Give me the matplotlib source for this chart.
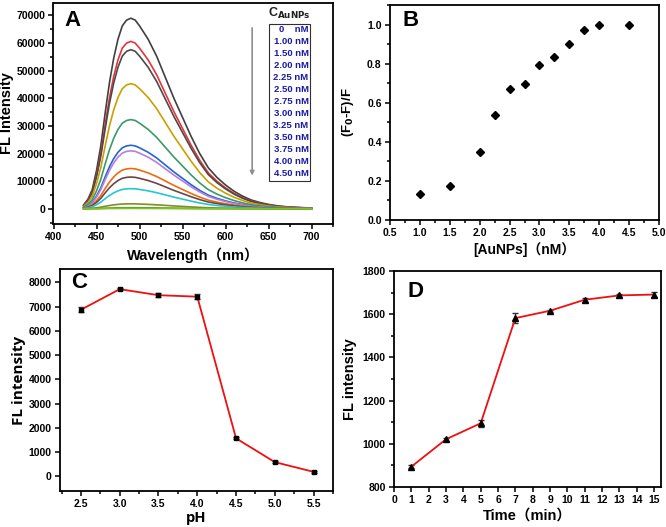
import numpy as np
import matplotlib.pyplot as plt
from matplotlib.ticker import MultipleLocator, AutoMinorLocator
from matplotlib.patches import Rectangle

plt.rcParams['font.family'] = ['Liberation Sans', 'Noto Sans CJK SC']
plt.rcParams['font.weight'] = 'bold'
plt.rcParams['axes.linewidth'] = 1.3

# --- A: emission spectra (normalised profile, scaled by each peak)
wavelength = [435, 440, 445, 450, 455, 460, 465, 470, 475, 480, 485, 490, 495, 500,
              510, 520, 530, 540, 550, 560, 570, 580, 590, 600, 610, 620, 630, 640,
              650, 660, 670, 680, 690, 700]
profile = [0.02, 0.05, 0.10, 0.20, 0.33, 0.50, 0.66, 0.79, 0.89, 0.96, 0.99, 1.00, 0.99, 0.96,
           0.89, 0.80, 0.69, 0.58, 0.48, 0.38, 0.29, 0.215, 0.165, 0.125, 0.092, 0.066, 0.046,
           0.033, 0.023, 0.016, 0.011, 0.008, 0.006, 0.004]
conc_labels = ['0    nM', '1.00 nM', '1.50 nM', '2.00 nM', '2.25 nM', '2.50 nM', '2.75 nM',
               '3.00 nM', '3.25 nM', '3.50 nM', '3.75 nM', '4.00 nM', '4.50 nM']
peaks = [69000, 60600, 57600, 45300, 32300, 23000, 21000, 14600, 11500, 7300, 1800, 400, 150]
colors = ['#404040', '#e8323a', '#4a4a4a', '#c9a000', '#3a9a6a', '#2266cc', '#b57ee0',
          '#ee6a10', '#6a4646', '#22c8d0', '#8a8a20', '#3aa030', '#80c020']

# --- B
aunps = [1.0, 1.5, 2.0, 2.25, 2.5, 2.75, 3.0, 3.25, 3.5, 3.75, 4.0, 4.5]
ratio = [0.131, 0.174, 0.346, 0.535, 0.668, 0.698, 0.792, 0.835, 0.898, 0.973, 0.997, 0.998]

# --- C
ph = [2.5, 3.0, 3.5, 4.0, 4.5, 5.0, 5.5]
fl_ph = [6870, 7720, 7470, 7410, 1570, 590, 190]
err_ph = [100, 40, 80, 110, 40, 40, 30]

# --- D
time_min = [1, 3, 5, 7, 9, 11, 13, 15]
fl_time = [894, 1021, 1095, 1582, 1616, 1667, 1687, 1691]
err_time = [8, 6, 15, 25, 5, 10, 6, 12]

W, H = 666, 527
fig = plt.figure(figsize=(W / 100, H / 100), dpi=100)


def box(l, r, t, b):
    return [l / W, 1 - b / H, (r - l) / W, (b - t) / H]


def style(ax):
    ax.tick_params(which='both', direction='out', labelsize=7.5, width=1.1, pad=2.5)
    ax.tick_params(which='major', length=3.5)
    ax.tick_params(which='minor', length=2)
    for lab in ax.get_xticklabels() + ax.get_yticklabels():
        lab.set_fontweight('bold')


def panel_letter(ax, s, x, y):
    ax.text(x, y, s, transform=ax.transAxes, fontsize=16, fontweight='bold',
            va='top', ha='left', family='Liberation Sans')


# ---------- A
axA = fig.add_axes(box(53.5, 333, 3, 224))
wl = np.array(wavelength)
for pk, c in zip(peaks, colors):
    axA.plot(wl, pk * np.array(profile), color=c, lw=1.2)
axA.set_xlim(400, 725)
axA.set_ylim(-5500, 74500)
axA.xaxis.set_major_locator(MultipleLocator(50))
axA.xaxis.set_minor_locator(AutoMinorLocator(2))
axA.yaxis.set_major_locator(MultipleLocator(10000))
axA.yaxis.set_minor_locator(AutoMinorLocator(2))
style(axA)
axA.set_xlabel('Wavelength（nm）', fontsize=10.5, fontweight='bold', labelpad=4)
axA.set_ylabel('FL Intensity', fontsize=10.5, fontweight='bold', labelpad=2)
panel_letter(axA, 'A', 0.04, 0.97)

axA.annotate('', xy=(631, 11000), xytext=(631, 66500),
             arrowprops=dict(arrowstyle='-|>', color='#909090', lw=1.2,
                             mutation_scale=6))


def ax_a(px, py):
    return (px - 53.5) / 279.5, (224 - py) / 221


x0, y0 = ax_a(269, 24)
x1, y1 = ax_a(310, 181)
axA.add_patch(Rectangle((x0, y1), x1 - x0, y0 - y1, transform=axA.transAxes,
                        fill=False, lw=0.8, ec='#303030'))
for i, lab in enumerate(conc_labels):
    tx, ty = ax_a(308.5, 30 + 12 * i)
    axA.text(tx, ty, lab, transform=axA.transAxes, ha='right', va='center',
             fontsize=6.8, fontweight='bold', color='#1a1aa6')
tx, ty = ax_a(289, 13)
axA.text(tx, ty, r'C$_{\mathbf{AuNPs}}$', transform=axA.transAxes, ha='center',
         va='center', fontsize=9, fontweight='bold', color='#202020')

# ---------- B
axB = fig.add_axes(box(390, 659, 5, 220))
axB.plot(aunps, ratio, 'D', color='black', ms=4)
axB.set_xlim(0.5, 5.0)
axB.set_ylim(0, 1.1)
axB.xaxis.set_major_locator(MultipleLocator(0.5))
axB.xaxis.set_minor_locator(AutoMinorLocator(2))
axB.yaxis.set_major_locator(MultipleLocator(0.2))
axB.yaxis.set_minor_locator(AutoMinorLocator(2))
axB.xaxis.set_major_formatter(plt.FormatStrFormatter('%.1f'))
axB.yaxis.set_major_formatter(plt.FormatStrFormatter('%.1f'))
style(axB)
axB.set_xlabel('[AuNPs]（nM）', fontsize=10, fontweight='bold', labelpad=3)
axB.set_ylabel(r'(F$_\mathbf{0}$-F)/F', fontsize=9.5, fontweight='bold', labelpad=8)
panel_letter(axB, 'B', 0.045, 0.975)

# ---------- C
axC = fig.add_axes(box(60, 333, 269, 491))
axC.errorbar(ph, fl_ph, yerr=err_ph, color='#ee1010', lw=1.3, marker='s', ms=3.5,
             mfc='black', mec='black', ecolor='#303030', elinewidth=0.9, capsize=2.5)
axC.set_xlim(2.23, 5.75)
axC.set_ylim(-600, 8550)
axC.xaxis.set_major_locator(MultipleLocator(0.5))
axC.xaxis.set_minor_locator(AutoMinorLocator(2))
axC.yaxis.set_major_locator(MultipleLocator(1000))
axC.xaxis.set_major_formatter(plt.FormatStrFormatter('%.1f'))
style(axC)
axC.set_xlabel('pH', fontsize=10.5, fontweight='bold', family='Open Sans', labelpad=1)
axC.set_ylabel('FL intensity', fontsize=11, fontweight='bold', family='Open Sans', labelpad=2)
panel_letter(axC, 'C', 0.04, 0.985)

# ---------- D
axD = fig.add_axes(box(394, 661, 271, 487))
axD.errorbar(time_min, fl_time, yerr=err_time, color='#ee1010', lw=1.3, marker='^', ms=4,
             mfc='black', mec='black', ecolor='#303030', elinewidth=0.9, capsize=2.5)
axD.set_xlim(0, 15.4)
axD.set_ylim(800, 1800)
axD.xaxis.set_major_locator(MultipleLocator(1))
axD.yaxis.set_major_locator(MultipleLocator(200))
axD.yaxis.set_minor_locator(AutoMinorLocator(2))
style(axD)
axD.set_xlabel('Time（min）', fontsize=10.5, fontweight='bold', labelpad=2)
axD.set_ylabel('FL intensity', fontsize=10.5, fontweight='bold', labelpad=4)
panel_letter(axD, 'D', 0.05, 0.955)

fig.savefig('out.png', dpi=100)
